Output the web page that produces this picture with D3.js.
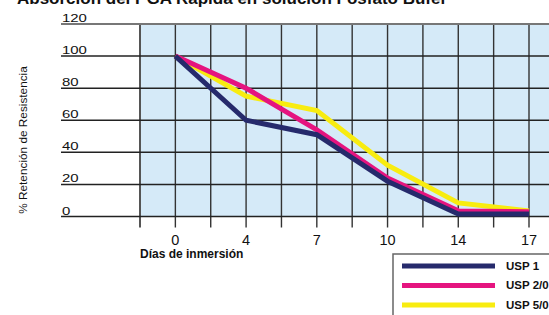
<!DOCTYPE html>
<html lang="es">
<head>
<meta charset="UTF-8">
<title>Absorción PGA</title>
<script src="https://d3js.org/d3.v7.min.js"></script>
<style>
  html, body { margin: 0; padding: 0; background: #fff; overflow: hidden; }
  text { font-family: "Liberation Sans", Arial, sans-serif; fill: #111; }
</style>
</head>
<body>
<div id="chart"></div>
<script>
// data
var days = ["0", "4", "7", "10", "14", "17"];
var seriesNames = ["USP 1", "USP 2/0", "USP 5/0"];
var usp1 = [100, 60, 51, 22, 1.5, 1.5];
var usp2 = [100, 80, 54, 24, 3.5, 3];
var usp5 = [100, 75, 66, 32, 8.5, 3.5];
var yTicks = [0, 20, 40, 60, 80, 100, 120];
var colors = ["#262a6c", "#e5147f", "#f8ec10"];

var W = 549, H = 315;

var svg = d3.select("#chart").append("svg")
    .attr("width", W)
    .attr("height", H);

// scales: x is position index of the day categories, grid every half step
var x = d3.scaleLinear().domain([-0.5, 5]).range([140, 529]);
var y = d3.scaleLinear().domain([0, 120]).range([216.5, 24]);

// title (mostly cut off at the top, as in the original)
svg.append("text")
    .attr("x", 17)
    .attr("y", 4)
    .style("font-size", "17px")
    .style("font-weight", "bold")
    .text("Absorción del PGA Rápida en solución Fosfato Bufer");

// plot background
svg.append("rect")
    .attr("x", x(-0.5))
    .attr("y", y(120))
    .attr("width", W - x(-0.5) + 5)
    .attr("height", y(0) - y(120))
    .attr("fill", "#d5eaf8");

// vertical grid lines + ticks
var vIdx = d3.range(-0.5, 6.01, 0.5);
svg.selectAll(".vgrid").data(vIdx).enter().append("line")
    .attr("class", "vgrid")
    .attr("x1", function(d) { return x(d); })
    .attr("x2", function(d) { return x(d); })
    .attr("y1", y(120))
    .attr("y2", y(0) + 11)
    .attr("stroke", function(d) { return d === -0.5 ? "#555" : "#333"; })
    .attr("stroke-width", function(d) { return d === -0.5 ? 2 : 1.4; });

// horizontal grid lines
svg.selectAll(".hgrid").data(yTicks).enter().append("line")
    .attr("class", "hgrid")
    .attr("x1", 61)
    .attr("x2", W + 5)
    .attr("y1", function(d) { return y(d); })
    .attr("y2", function(d) { return y(d); })
    .attr("stroke", function(d) { return d === 120 ? "#777" : "#222"; })
    .attr("stroke-width", function(d) { return d === 120 ? 2 : 1.5; });

// y tick labels sitting on the lines
svg.selectAll(".ylab").data(yTicks).enter().append("text")
    .attr("class", "ylab")
    .attr("transform", function(d) { return "translate(62," + (y(d) - 2) + ") scale(1.3,1)"; })
    .style("font-size", "11.5px")
    .text(function(d) { return d; });

// x tick labels
svg.selectAll(".xlab").data(days).enter().append("text")
    .attr("class", "xlab")
    .attr("x", function(d, i) { return x(i); })
    .attr("y", 245)
    .attr("text-anchor", "middle")
    .style("font-size", "14.5px")
    .text(function(d) { return d; });

svg.append("text")
    .attr("x", 140)
    .attr("y", 257.5)
    .style("font-size", "12px")
    .style("font-weight", "bold")
    .text("Días de inmersión");

svg.append("text")
    .attr("transform", "translate(27,140) rotate(-90)")
    .attr("text-anchor", "middle")
    .style("font-size", "11.8px")
    .text("% Retención de Resistencia");

// series lines
var line = d3.line()
    .x(function(d, i) { return x(i); })
    .y(function(d) { return y(d); });

var allSeries = [usp1, usp2, usp5];
var drawOrder = [2, 1, 0];
drawOrder.forEach(function(k) {
    svg.append("path")
        .datum(allSeries[k])
        .attr("d", line)
        .attr("fill", "none")
        .attr("stroke", colors[k])
        .attr("stroke-width", 5)
        .attr("stroke-linejoin", "miter");
});

// legend
var lg = svg.append("g").attr("transform", "translate(393,254)");
lg.append("rect")
    .attr("x", 0).attr("y", 0)
    .attr("width", 200).attr("height", 100)
    .attr("fill", "#fff")
    .attr("stroke", "#666")
    .attr("stroke-width", 1.5);
seriesNames.forEach(function(name, i) {
    var yy = 12 + i * 19.5;
    lg.append("line")
        .attr("x1", 9).attr("x2", 102)
        .attr("y1", yy).attr("y2", yy)
        .attr("stroke", colors[i])
        .attr("stroke-width", 5);
    lg.append("text")
        .attr("x", 113)
        .attr("y", yy + 3.5)
        .style("font-size", "11.5px")
        .style("font-weight", "bold")
        .text(name);
});
</script>
</body>
</html>
